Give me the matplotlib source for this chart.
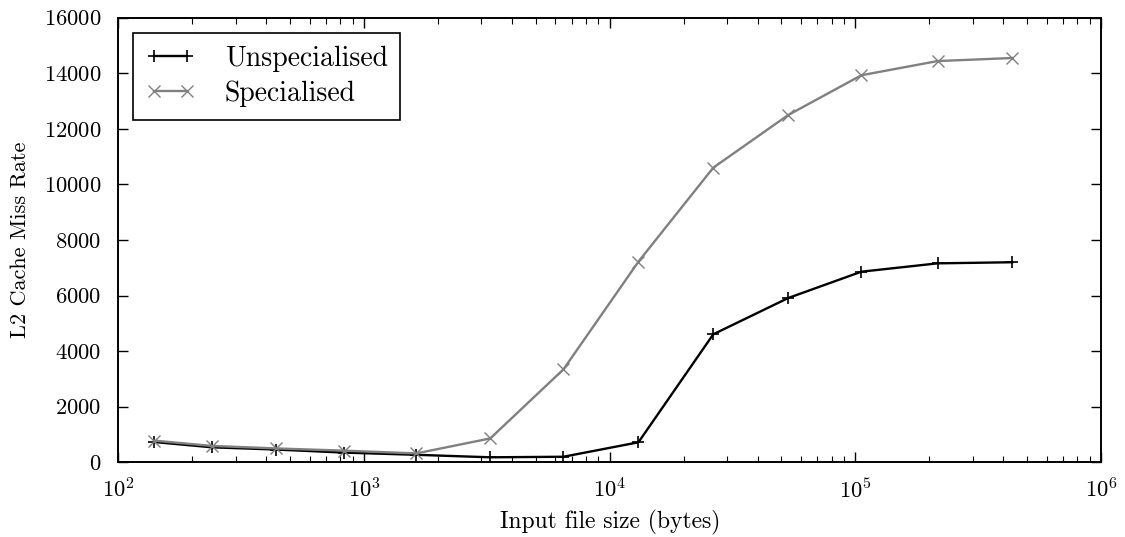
import matplotlib
matplotlib.use("Agg")
import matplotlib.pyplot as plt
from matplotlib.ticker import LogLocator, MultipleLocator, NullFormatter

plt.rcParams["font.family"] = ["cmr10"]
plt.rcParams["mathtext.fontset"] = "cm"
plt.rcParams["axes.formatter.use_mathtext"] = True

# Input sizes in bytes
sizes = [140, 240, 437, 827, 1633, 3265, 6483, 13090, 26400, 53300,
         105800, 216000, 434600]

unspecialised = [730, 540, 460, 350, 270, 180, 200, 720, 4607, 5913,
                 6860, 7160, 7200]
specialised = [780, 590, 500, 420, 320, 860, 3345, 7220, 10604, 12499,
               13930, 14440, 14550]

series_labels = ["Unspecialised", "Specialised"]

fig = plt.figure(figsize=(11.25, 5.37), dpi=100)
ax = fig.add_axes([0.1052, 0.1391, 0.8735, 0.8279])

ax.plot(sizes, unspecialised, color="black", lw=1.7, marker="+",
        markersize=9, markeredgewidth=1.2, label=series_labels[0])
ax.plot(sizes, specialised, color="#808080", lw=1.7, marker="x",
        markersize=9, markeredgewidth=1.0, label=series_labels[1])

ax.set_xscale("log")
ax.set_xlim(1e2, 1e6)
ax.set_ylim(0, 16000)
ax.yaxis.set_major_locator(MultipleLocator(2000))
ax.xaxis.set_major_locator(LogLocator(base=10))
ax.xaxis.set_minor_locator(LogLocator(base=10, subs=range(2, 10)))
ax.xaxis.set_minor_formatter(NullFormatter())

ax.tick_params(which="both", direction="in", top=True, right=True,
               labelsize=16.3)
ax.tick_params(axis="x", which="major", pad=11)
ax.tick_params(axis="y", which="major", pad=12)
ax.tick_params(which="major", length=7, width=1.0)
ax.tick_params(which="minor", length=4, width=0.8)
for s in ax.spines.values():
    s.set_linewidth(1.4)

ax.set_xlabel("Input file size (bytes)", fontsize=17, labelpad=6)
ax.set_ylabel("L2 Cache Miss Rate", fontsize=16, labelpad=10)

leg = ax.legend(loc="upper left", fontsize=20, frameon=True, fancybox=False,
                edgecolor="black", framealpha=1, numpoints=2,
                handlelength=1.8, handletextpad=1.05, borderpad=0.45,
                labelspacing=0.32, borderaxespad=0.0,
                bbox_to_anchor=(0.015, 0.966))
leg.get_frame().set_linewidth(1.2)

fig.savefig("out.png", dpi=100)
